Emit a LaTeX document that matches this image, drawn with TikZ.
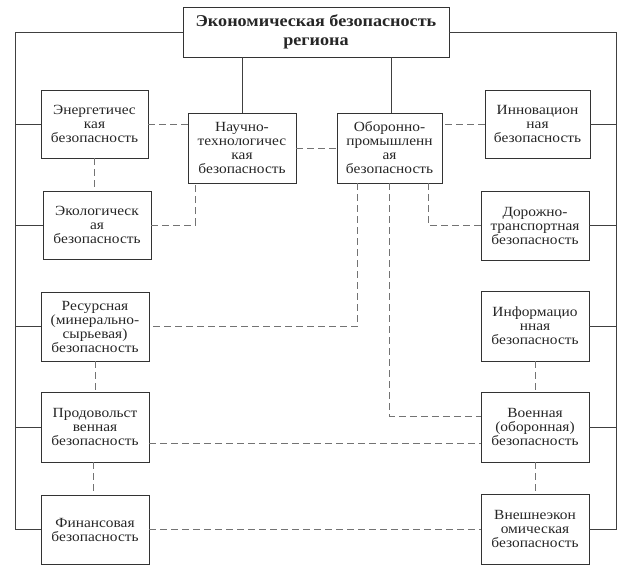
\documentclass[tikz,border=0pt]{standalone}
\usepackage{fontspec}
\setmainfont{Liberation Serif}[FakeStretch=1.1]
\begin{document}
\begin{tikzpicture}[x=1pt,y=-1pt,
  box/.style={draw=black!80,line width=0.9pt,rectangle,align=center,inner sep=0pt,
     font=\fontsize{14}{14}\selectfont,text=black!85},
  sbox/.style={box,minimum width=108pt,minimum height=69pt},
  solid line/.style={draw=black!75,line width=0.9pt},
  dline/.style={draw=black!55,line width=0.9pt,dash pattern=on 7pt off 4pt}]
\useasboundingbox (0,0) rectangle (634,571);
\node[box,minimum width=266pt,minimum height=50pt,font=\bfseries\fontsize{16.5}{19.5}\selectfont] (top) at (316,32) {Экономическая безопасность\\региона};
\node[sbox,minimum width=107pt,minimum height=68pt] (en) at (94.5,124) {Энергетичес\\кая\\безопасность};
\node[sbox,minimum height=68pt] (eco) at (97,225) {Экологическ\\ая\\безопасность};
\node[sbox] (res) at (95,326.5) {Ресурсная\\(минерально-\\сырьевая)\\безопасность};
\node[sbox,minimum height=70pt] (food) at (95,427) {Продовольст\\венная\\безопасность};
\node[sbox] (fin) at (95,529.5) {Финансовая\\безопасность};
\node[sbox,minimum height=70pt] (nt) at (242,148) {Научно-\\технологичес\\кая\\безопасность};
\node[sbox,minimum width=105pt,minimum height=70pt] (ob) at (389.5,148) {Оборонно-\\промышленн\\ая\\безопасность};
\node[sbox,minimum width=105pt,minimum height=68pt] (inn) at (537.5,124) {Инновацион\\ная\\безопасность};
\node[sbox] (dor) at (535,225.5) {Дорожно-\\транспортная\\безопасность};
\node[sbox,minimum height=70pt] (inf) at (535,326) {Информацио\\нная\\безопасность};
\node[sbox,minimum height=70pt] (voen) at (535,427) {Военная\\(оборонная)\\безопасность};
\node[sbox,minimum height=70pt] (vne) at (535,529) {Внешнеэкон\\омическая\\безопасность};
% trunks
\coordinate (lb) at (15,529.5);
\coordinate (rb) at (616,529);
\draw[solid line] (top.west) -| (lb) -- (fin.west);
\draw[solid line] (top.east) -| (rb) -- (vne.east);
\foreach \n in {en,eco,res,food} \draw[solid line] (\n.west) -- (\n.west -| lb);
\foreach \n in {inn,dor,inf,voen} \draw[solid line] (\n.east) -- (\n.east -| rb);
\draw[solid line] (nt.north) -- (nt.north |- top.south);
\draw[solid line] ([xshift=1.5pt]ob.north) -- ([xshift=1.5pt]ob.north |- top.south);
% dashed
\draw[dline] (en.east) -- (en.east -| nt.west);
\draw[dline] (en.south) -- (en.south |- eco.north);
\draw[dline] (eco.east) -| ([xshift=8pt]nt.south west);
\draw[dline] (nt.east) -- (ob.west);
\draw[dline] (inn.west) -- (inn.west -| ob.east);
\draw[dline] ([xshift=-14pt]ob.south east) |- (dor.west);
\draw[dline] ([xshift=21pt]ob.south west) |- (res.east);
\draw[dline] (ob.south) |- ([yshift=11pt]voen.west);
\draw[dline] ([yshift=-16pt]food.east) -- ([yshift=-16pt]food.east -| voen.west);
\draw[dline] (fin.east) -- (fin.east -| vne.west);
\draw[dline] (res.south) -- (res.south |- food.north);
\draw[dline] ([xshift=-2pt]food.south) -- ([xshift=-2pt]food.south |- fin.north);
\draw[dline] (inf.south) -- (voen.north);
\draw[dline] (voen.south) -- (vne.north);
\end{tikzpicture}
\end{document}
